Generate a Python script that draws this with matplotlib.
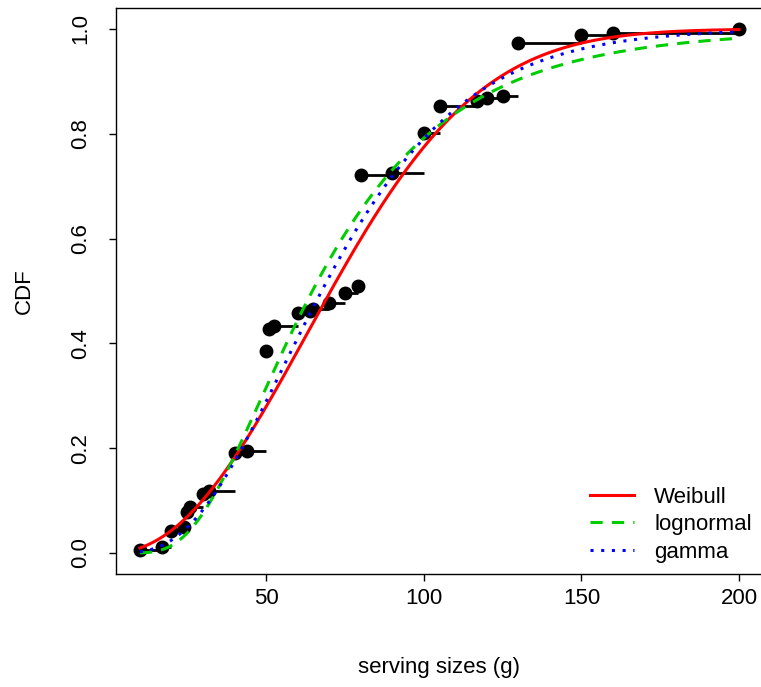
import math
import numpy as np
import matplotlib
matplotlib.use("Agg")
import matplotlib.pyplot as plt

plt.rcParams['font.family'] = ['Liberation Sans', 'DejaVu Sans']

serving = [10, 17, 20, 24, 25, 26, 30, 32, 40, 44, 50, 51, 52.5, 60, 64, 65, 70, 75, 79,
           80, 90, 100, 105, 117, 120, 125, 130, 150, 160, 200]
ecdf = [0.006, 0.011, 0.042, 0.050, 0.078, 0.088, 0.113, 0.119, 0.190, 0.194, 0.386, 0.428,
        0.434, 0.458, 0.461, 0.465, 0.478, 0.497, 0.509, 0.721, 0.725, 0.801, 0.853, 0.862,
        0.868, 0.872, 0.973, 0.988, 0.992, 1.0]

# Fitted distribution parameters
weibull_shape, weibull_scale = 2.1859, 83.3477
lnorm_meanlog, lnorm_sdlog = 4.1693, 0.5366
gamma_shape, gamma_rate = 4.0083, 0.05442

legend_labels = ["Weibull", "lognormal", "gamma"]
fit_colors = ["#FF0000", "#00CD00", "#0000FF"]
fit_styles = ["-", (0, (4, 3)), (0, (1, 2.5))]


def gamma_cdf(x, a, rate):
    z = x * rate
    if z <= 0:
        return 0.0
    term = 1.0 / a
    s = term
    for n in range(1, 400):
        term *= z / (a + n)
        s += term
        if term < 1e-15 * s:
            break
    return math.exp(a * math.log(z) - z - math.lgamma(a)) * s


xs = np.linspace(min(serving), max(serving), 500)
weib = 1 - np.exp(-(xs / weibull_scale) ** weibull_shape)
lnorm = np.array([0.5 * (1 + math.erf((math.log(v) - lnorm_meanlog) / (lnorm_sdlog * math.sqrt(2)))) for v in xs])
gam = np.array([gamma_cdf(v, gamma_shape, gamma_rate) for v in xs])

fig = plt.figure(figsize=(7.61, 6.87), dpi=100)
ax = fig.add_axes([116 / 761, 1 - 574 / 687, (763 - 116) / 761, (574 - 8) / 687])

# ECDF steps
ax.hlines(ecdf[:-1], serving[:-1], serving[1:], colors="black", linewidth=2)
ax.plot(serving, ecdf, "o", color="black", markersize=9, zorder=3)

for y, c, ls, lab in zip([weib, lnorm, gam], fit_colors, fit_styles, legend_labels):
    ax.plot(xs, y, color=c, linestyle=ls, linewidth=2.2, label=lab, zorder=4)

ax.set_xlim(2.4, 207.6)
ax.set_ylim(-0.04, 1.04)
ax.set_xticks([50, 100, 150, 200])
ax.set_yticks([0.0, 0.2, 0.4, 0.6, 0.8, 1.0])
ax.set_yticklabels(["0.0", "0.2", "0.4", "0.6", "0.8", "1.0"], rotation=90, va="center")
ax.tick_params(direction="out", length=5, width=1, labelsize=16)
ax.tick_params(axis="x", pad=5)
ax.tick_params(axis="y", pad=13)
for sp in ax.spines.values():
    sp.set_linewidth(1)
ax.set_xlabel("serving sizes (g)", fontsize=16, labelpad=35)
ax.set_ylabel("CDF", fontsize=16, labelpad=25)

leg = ax.legend(loc="lower right", frameon=False, fontsize=16, handlelength=2.0,
                handletextpad=0.9, borderaxespad=0.1, borderpad=0.4, labelspacing=0.3)

fig.savefig("out.png", dpi=100)
